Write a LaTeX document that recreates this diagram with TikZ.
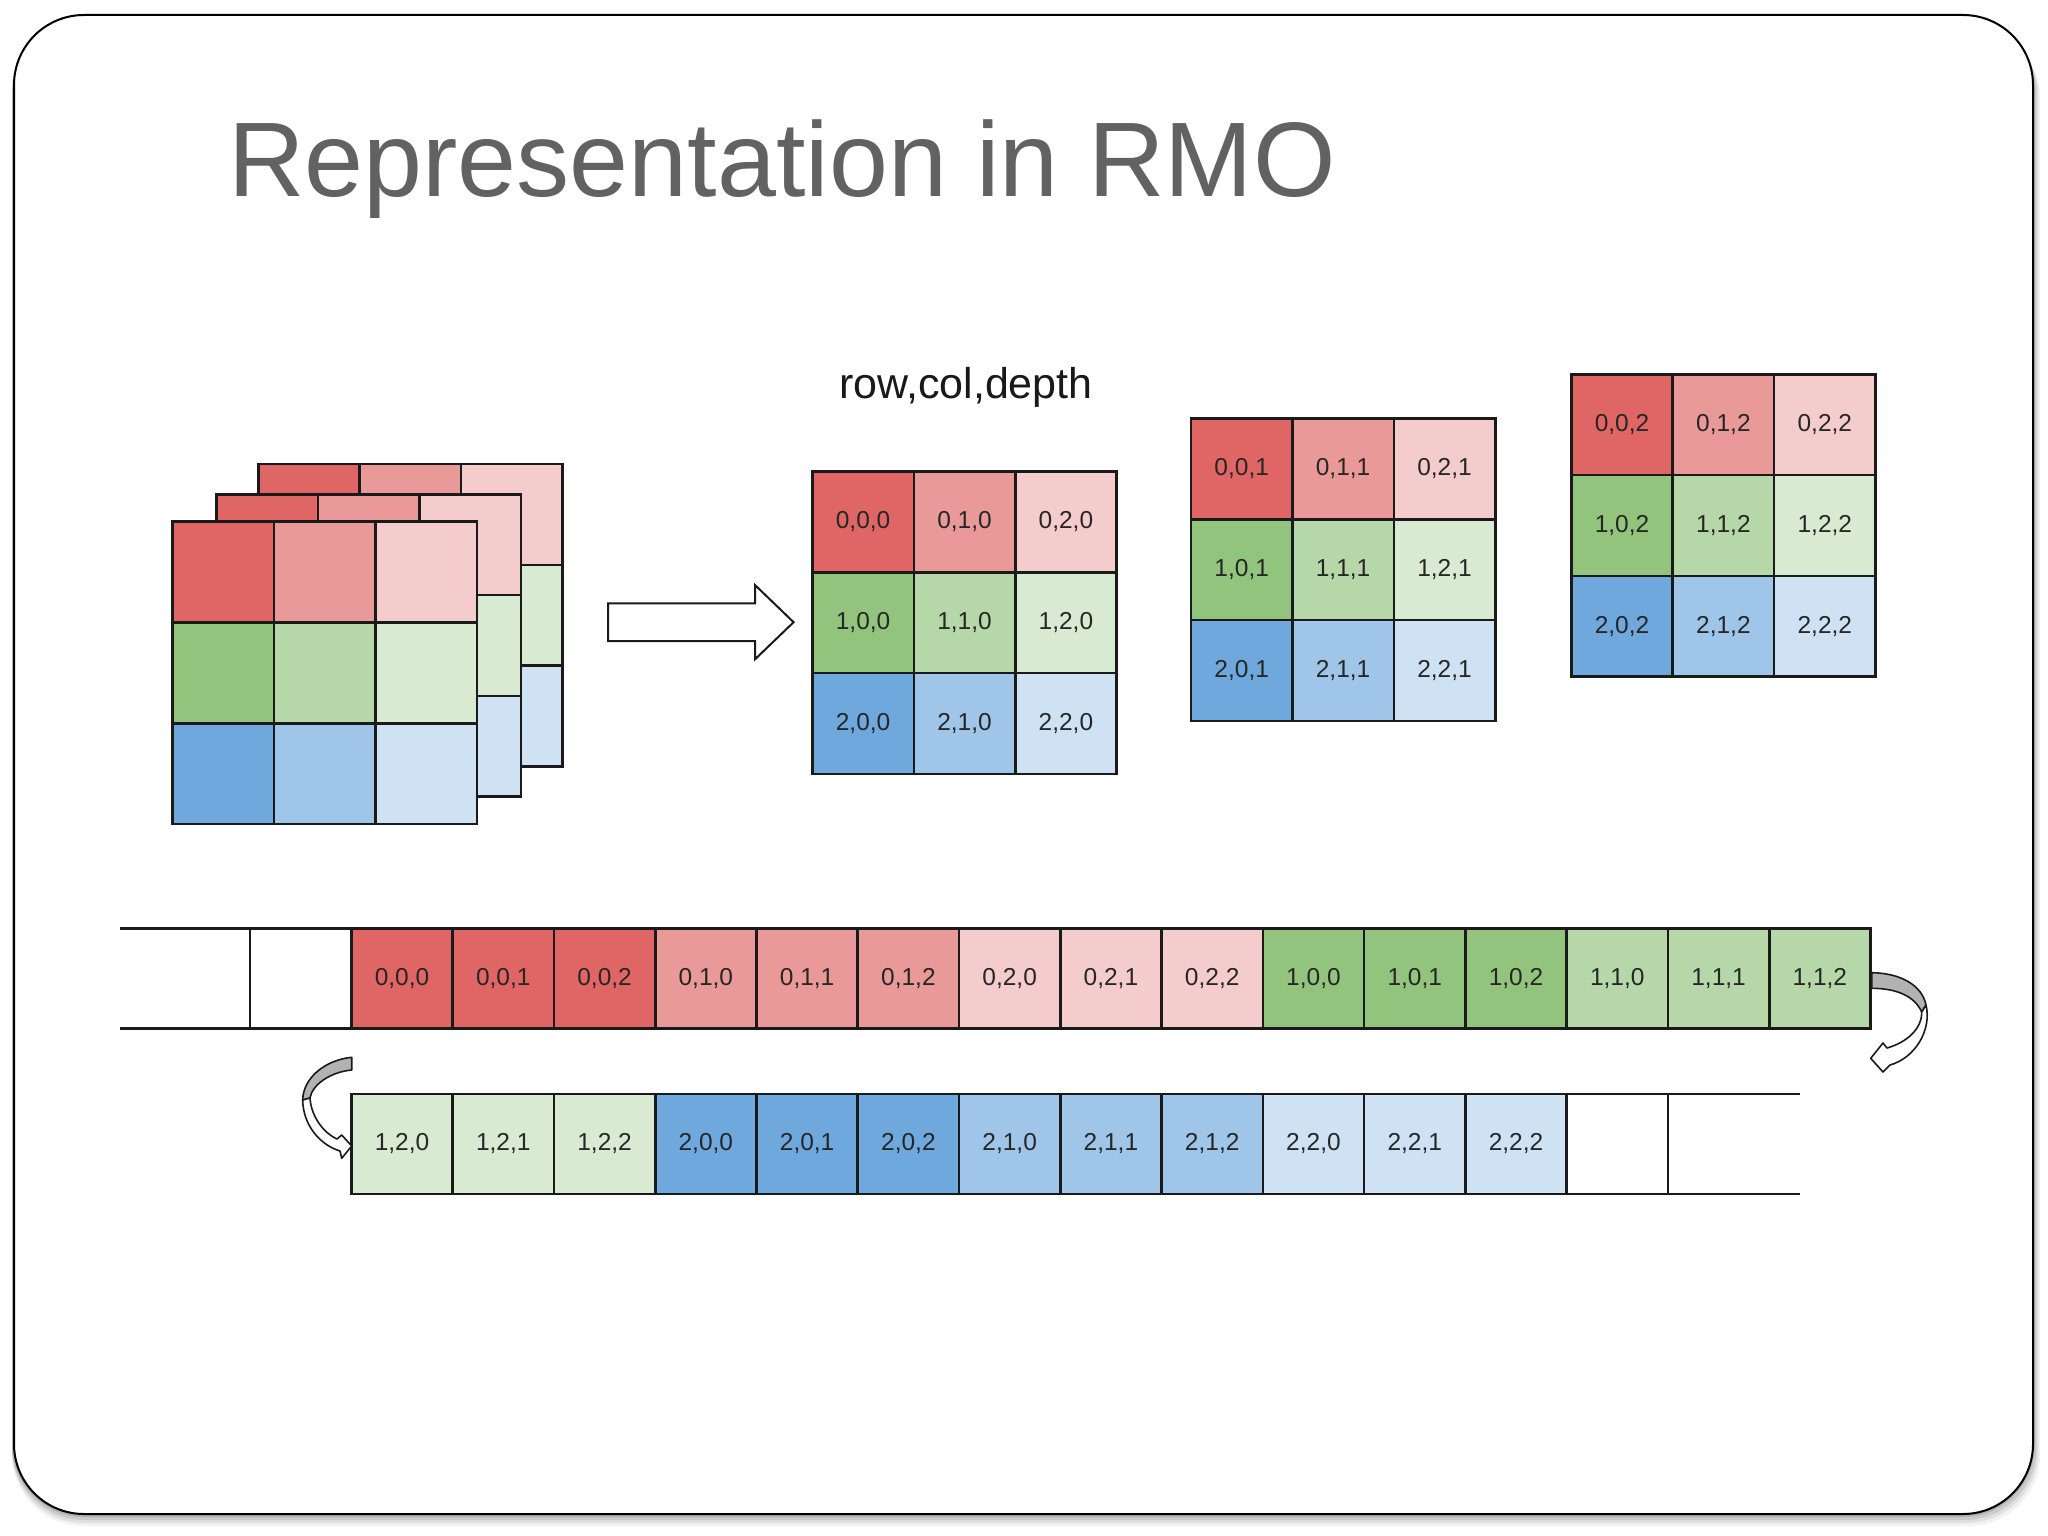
\documentclass[tikz,border=0pt]{standalone}
\usepackage{fontspec}
\setmainfont{Liberation Sans}
\usetikzlibrary{calc}
\definecolor{rA}{HTML}{E06666}
\definecolor{rB}{HTML}{EA9999}
\definecolor{rC}{HTML}{F4CCCC}
\definecolor{gA}{HTML}{93C47D}
\definecolor{gB}{HTML}{B6D7A8}
\definecolor{gC}{HTML}{D9EAD3}
\definecolor{bA}{HTML}{6FA8DC}
\definecolor{bB}{HTML}{9FC5E8}
\definecolor{bC}{HTML}{CFE2F3}
\definecolor{titlegray}{HTML}{626262}
\definecolor{linec}{HTML}{1A1A1A}
\newcommand\mygrid[4]{%
  \foreach \r/\rowc in {0/r,1/g,2/b}{%
    \foreach \c/\colc in {0/A,1/B,2/C}{%
      \node[cell, fill=\rowc\colc] (#1-\r-\c) at ({#2+101.4*\c+50.7},{#3+100.8*\r+50.4}) {#4};
    }}}
\begin{document}
\begin{tikzpicture}[x=1pt,y=-1pt,
  cell/.style={draw=linec, line width=2.6pt, outer sep=0pt, minimum width=101.4pt, minimum height=100.8pt, inner sep=0pt, font=\fontsize{24.5}{28}\selectfont, text=black!85},
  rowcell/.style={cell, minimum width=101.27pt, minimum height=100pt},
  emptycell/.style={rowcell, fill=white},
  stripline/.style={draw=linec, line width=2.6pt},
  blockarrow/.style={draw=linec, line width=2pt, fill=white, line join=miter},
  turnback/.style={draw=linec, line width=1.6pt, fill=black!30, line join=round},
  turnfront/.style={draw=linec, line width=1.6pt, fill=white, line join=round}]
\useasboundingbox (0,0) rectangle (2048,1536);
\fill[white] (0,0) rectangle (2048,1536);
% slide shadow and frame
\foreach \o/\t in {12/0.05,9/0.07,6/0.09,3/0.12}
  \fill[black, opacity=\t, rounded corners=72pt] (12,{15+\o}) rectangle ({2033+0.6*\o},{1514+\o});
\filldraw[fill=white, draw=black, line width=2pt, rounded corners=70pt] (14,15) rectangle (2033,1514);
% title
\node[anchor=base west, inner sep=0pt, text=titlegray, font=\fontsize{106}{120}\selectfont] (title) at (228,196) {Representation in RMO};
\node[anchor=base, inner sep=0pt, text=black!90, font=\fontsize{43}{50}\selectfont] (rcd) at (966,398) {row,col,depth};
% stacked grids
\mygrid{back}{258.3}{464}{}
\mygrid{mid}{216.7}{494.3}{}
\mygrid{front}{172.7}{521.7}{}
% block arrow
\coordinate (ba) at (608,622.2);
\draw[blockarrow] (608,603.3) -- (755,603.3) -- (755,585) -- (793.6,622.2) -- (755,659.3) -- (755,641) -- (608,641) -- cycle;
% labelled grids
\mygrid{d0}{812.4}{471.5}{\r,\c,0}
\mygrid{d1}{1191}{418.5}{\r,\c,1}
\mygrid{d2}{1571.3}{374.3}{\r,\c,2}
% strip 1
\node[emptycell] (e1) at (300.5,978.2) {};
\foreach \k in {0,...,14}{%
  \pgfmathtruncatemacro\rr{\k/9}%
  \pgfmathtruncatemacro\cc{mod(\k,9)/3}%
  \pgfmathtruncatemacro\dd{mod(\k,3)}%
  \edef\rowc{\ifcase\rr r\or g\or b\fi}%
  \edef\colc{\ifcase\cc A\or B\or C\fi}%
  \node[rowcell, fill=\rowc\colc] (m\k) at ({351.4+101.27*\k+50.635},978.2) {\rr,\cc,\dd};
}
\coordinate (s1a) at (120,928.2);
\coordinate (s1b) at (120,1028.2);
\draw[stripline] (e1.north west) -- (s1a);
\draw[stripline] (e1.south west) -- (s1b);
% strip 2
\foreach \k in {15,...,26}{%
  \pgfmathtruncatemacro\rr{\k/9}%
  \pgfmathtruncatemacro\cc{mod(\k,9)/3}%
  \pgfmathtruncatemacro\dd{mod(\k,3)}%
  \edef\rowc{\ifcase\rr r\or g\or b\fi}%
  \edef\colc{\ifcase\cc A\or B\or C\fi}%
  \node[rowcell, fill=\rowc\colc] (n\k) at ({351.4+101.27*(\k-15)+50.635},1143.9) {\rr,\cc,\dd};
}
\node[emptycell] (e2) at ({351.4+101.27*12+50.635},1143.9) {};
\coordinate (s2a) at (1800,1093.9);
\coordinate (s2b) at (1800,1193.9);
\draw[stripline] (e2.north east) -- (s2a);
\draw[stripline] (e2.south east) -- (s2b);
% right turn arrow
\draw[turnback] (1871.7,972.7) .. controls (1900,973) and (1922,985) .. (1926,1005) -- (1921.7,1012) .. controls (1915,997) and (1898,988.3) .. (1871.7,988.3) -- cycle;
\draw[turnfront] (1926,1005) .. controls (1932,1030) and (1915,1058) .. (1890,1065) -- (1883,1072) -- (1870.7,1058.3) -- (1883,1043) -- (1887,1048) .. controls (1908,1042) and (1922,1028) .. (1921.7,1012) -- cycle;
% left turn arrow
\draw[turnback] (351.7,1057.3) .. controls (325,1060) and (303,1078) .. (302.7,1100) -- (310,1098) .. controls (312,1085) and (330,1072) .. (351.7,1070) -- cycle;
\draw[turnfront] (302.7,1100) .. controls (303,1125) and (320,1145) .. (340,1151) -- (341.7,1158.3) -- (351.7,1146) -- (341.7,1135) -- (337,1139) .. controls (322,1132) and (311,1115) .. (310,1098) -- cycle;
\end{tikzpicture}
\end{document}
